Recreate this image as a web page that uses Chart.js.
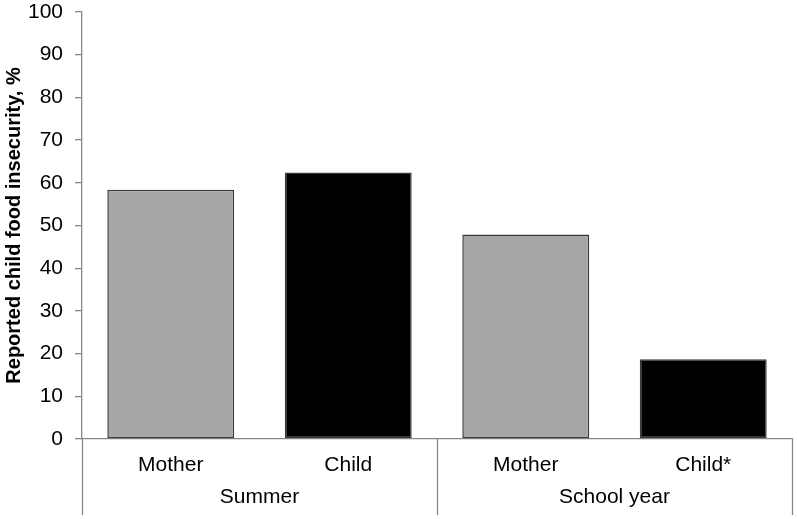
<!DOCTYPE html>
<html>
<head>
<meta charset="utf-8">
<script src="https://cdn.jsdelivr.net/npm/chart.js@4.4.1/dist/chart.umd.min.js"></script>
<style>
  html, body { margin: 0; padding: 0; background: #fff; }
  #wrap { width: 797px; height: 519px; }
</style>
</head>
<body>
<div id="wrap"><canvas id="c"></canvas></div>
<script>
const categories = ["Mother", "Child", "Mother", "Child*"];
const groups = ["Summer", "School year"];
const values = [58.4, 62.4, 47.9, 18.7];
const yTicks = [0, 10, 20, 30, 40, 50, 60, 70, 80, 90, 100];

const barColors = ["#a6a6a6", "#000000", "#a6a6a6", "#000000"];
const FONT = "'Liberation Sans', Arial, sans-serif";

// group labels + separator lines under the x axis
const groupPlugin = {
  id: "groups",
  afterDraw(chart) {
    const ctx = chart.ctx;
    const x = chart.scales.x;
    const area = chart.chartArea;
    const bottom = 515;
    const half = (x.getPixelForValue(1) - x.getPixelForValue(0)) / 2;
    const edges = [
      x.getPixelForValue(0) - half,
      x.getPixelForValue(1) + half,
      x.getPixelForValue(3) + half
    ];
    ctx.save();
    ctx.strokeStyle = "#888";
    ctx.lineWidth = 1.3;
    edges.forEach(e => {
      ctx.beginPath();
      ctx.moveTo(Math.round(e) + 0.5, area.bottom);
      ctx.lineTo(Math.round(e) + 0.5, bottom);
      ctx.stroke();
    });
    ctx.fillStyle = "#000";
    ctx.font = "21px " + FONT;
    ctx.textAlign = "center";
    ctx.textBaseline = "middle";
    groups.forEach((g, i) => {
      const cx = (x.getPixelForValue(i * 2) + x.getPixelForValue(i * 2 + 1)) / 2;
      ctx.fillText(g, cx, 497);
    });
    ctx.restore();
  }
};

new Chart(document.getElementById("c"), {
  type: "bar",
  data: {
    labels: categories,
    datasets: [{
      data: values,
      backgroundColor: barColors,
      borderColor: "#3a3a3a",
      borderWidth: 1.5,
      borderSkipped: false,
      categoryPercentage: 0.715,
      barPercentage: 1
    }]
  },
  options: {
    responsive: true,
    maintainAspectRatio: false,
    animation: false,
    layout: { padding: { top: 12, right: 5, bottom: 0, left: 0 } },
    plugins: { legend: { display: false }, tooltip: { enabled: false } },
    scales: {
      x: {
        afterFit(s) { s.height = 80; },
        grid: { display: false },
        border: { display: true, color: "#888", width: 1.3 },
        ticks: { color: "#000", font: { size: 21, family: FONT }, padding: 6, maxRotation: 0 }
      },
      y: {
        min: 0,
        max: 100,
        afterBuildTicks(s) { s.ticks = yTicks.map(v => ({ value: v })); },
        afterFit(s) { s.width = 82; s.paddingTop = 0; s.paddingBottom = 0; },
        grid: { drawOnChartArea: false, drawTicks: true, tickLength: 7, color: "#888", lineWidth: 1.3 },
        border: { display: true, color: "#888", width: 1.3 },
        ticks: { color: "#000", font: { size: 21, family: FONT }, padding: 12 },
        title: {
          display: true,
          text: "Reported child food insecurity, %",
          color: "#000",
          font: { size: 20, weight: "bold", family: FONT },
          padding: { top: 2, bottom: 4 }
        }
      }
    }
  },
  plugins: [groupPlugin]
});
</script>
</body>
</html>
